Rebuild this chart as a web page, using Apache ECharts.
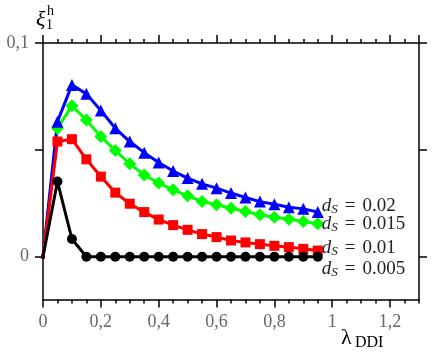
<!DOCTYPE html>
<html>
<head>
<meta charset="utf-8">
<script src="https://cdn.jsdelivr.net/npm/echarts@6/dist/echarts.min.js"></script>
<style>
  html, body { margin: 0; padding: 0; background: #fff; }
  #chart { width: 436px; height: 355px; }
</style>
</head>
<body>
<div id="chart"></div>
<script>
// lambda_DDI sample points
var lambdaVals = [0, 0.05, 0.1, 0.15, 0.2, 0.25, 0.3, 0.35, 0.4, 0.45, 0.5, 0.55, 0.6, 0.65, 0.7, 0.75, 0.8, 0.85, 0.9, 0.95];

// xi_1^h for each d_S
var ds002 = [0, 0.0632, 0.0804, 0.0762, 0.0684, 0.0601, 0.0539, 0.0487, 0.0441, 0.0401, 0.0368, 0.0341, 0.0321, 0.0298, 0.0277, 0.0258, 0.0246, 0.0232, 0.0224, 0.0209];
var ds0015 = [0, 0.0601, 0.0706, 0.0640, 0.0562, 0.0497, 0.0435, 0.0383, 0.0345, 0.0313, 0.0285, 0.0259, 0.0243, 0.0227, 0.0212, 0.0196, 0.0185, 0.0176, 0.0165, 0.0154];
var ds001 = [0, 0.0539, 0.0550, 0.0456, 0.0375, 0.0300, 0.0248, 0.0209, 0.0174, 0.0148, 0.0126, 0.0106, 0.0092, 0.0076, 0.0067, 0.0059, 0.0051, 0.0045, 0.0037, 0.0029];
var ds0005 = [0, 0.0352, 0.0083, 0, 0, 0, 0, 0, 0, 0, 0, 0, 0, 0, 0, 0, 0, 0, 0, 0];

var dsLabels = ['0.02', '0.015', '0.01', '0.005'];

// ticks
var yTicks = [0, 0.05, 0.1];
var yTickLabels = [0, 0.1];

var serif = '"Liberation Serif", "DejaVu Serif", serif';
var fmt = function (v) { return String(v).replace('.', ','); };

function pairs(vals) {
    return lambdaVals.map(function (x, i) {
        if (i === 0) return {value: [x, vals[i]], symbolSize: 4};
        return [x, vals[i]];
    });
}

function endLabel(text, dy) {
    return {
        show: true,
        distance: 4,
        offset: [0, dy],
        color: '#222',
        fontFamily: serif,
        fontSize: 19,
        formatter: '{d|d}{s|S}{e|=}' + text,
        rich: {
            d: {fontStyle: 'italic', fontFamily: serif, fontSize: 19, color: '#222'},
            s: {fontStyle: 'italic', fontFamily: serif, fontSize: 13, color: '#222', padding: [8, 0, 0, 0]},
            e: {fontFamily: serif, fontSize: 19, color: '#222', padding: [0, 7, 0, 7]}
        }
    };
}

function lineSeries(vals, color, symbol, size, label, dy) {
    return {
        type: 'line',
        xAxisIndex: 0,
        yAxisIndex: 0,
        data: pairs(vals),
        symbol: symbol,
        symbolSize: size,
        showAllSymbol: true,
        lineStyle: {color: color, width: 3},
        itemStyle: {color: color},
        endLabel: endLabel(label, dy),
        animation: false
    };
}

var axisLineStyle = {color: '#000', width: 1.5};

function xAx(pos, interval, len, labels, line) {
    return {
        type: 'value', position: pos, min: 0, max: 1.3, interval: interval,
        axisLine: {show: line, onZero: false, lineStyle: axisLineStyle},
        axisTick: {show: true, inside: false, length: len, lineStyle: axisLineStyle},
        axisLabel: {show: labels, showMaxLabel: false, margin: 14, formatter: fmt,
            fontFamily: serif, fontSize: 18, color: '#666'},
        splitLine: {show: false}
    };
}

function yAx(pos, labels) {
    return {
        type: 'value', position: pos, min: -0.02, max: 0.1,
        axisLine: {show: true, onZero: false, lineStyle: axisLineStyle},
        axisTick: {show: true, inside: false, length: 8, customValues: yTicks, lineStyle: axisLineStyle},
        axisLabel: {show: labels, customValues: yTickLabels, margin: 14, formatter: fmt,
            fontFamily: serif, fontSize: 18, color: '#666'},
        splitLine: {show: false}
    };
}

var chart = echarts.init(document.getElementById('chart'));
chart.setOption({
    animation: false,
    grid: {left: 43, right: 17, top: 43, bottom: 55.5, containLabel: false},
    xAxis: [
        xAx('bottom', 0.2, 8, true, true),
        xAx('bottom', 0.05, 4, false, false),
        xAx('top', 0.2, 8, false, true),
        xAx('top', 0.05, 4, false, false)
    ],
    yAxis: [
        yAx('left', true),
        yAx('right', false)
    ],
    series: [
        lineSeries(ds0015, '#00ff00', 'diamond', 13, dsLabels[1], 0),
        lineSeries(ds002, '#0000ff', 'triangle', 12, dsLabels[0], -6),
        lineSeries(ds001, '#ff0000', 'rect', 10, dsLabels[2], -3),
        lineSeries(ds0005, '#000000', 'circle', 10, dsLabels[3], 12)
    ],
    graphic: [
        {type: 'text', x: 36, y: 9, style: {text: 'ξ', font: 'italic 22px ' + serif, fill: '#000'}},
        {type: 'text', x: 46, y: 18, style: {text: '1', font: '14px ' + serif, fill: '#000'}},
        {type: 'text', x: 47, y: 4, style: {text: 'h', font: '14px ' + serif, fill: '#000'}},
        {type: 'text', x: 341, y: 327, style: {text: 'λ', font: '22px ' + serif, fill: '#000'}},
        {type: 'text', x: 355, y: 335, style: {text: 'DDI', font: '16px ' + serif, fill: '#000'}}
    ]
});
</script>
</body>
</html>
